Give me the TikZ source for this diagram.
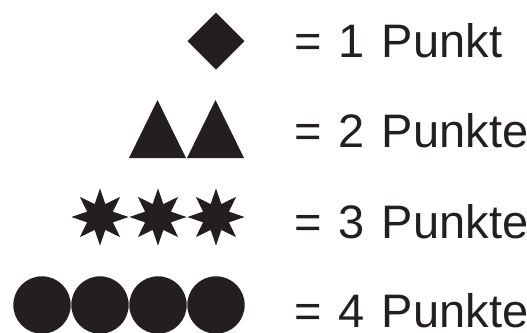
\documentclass[tikz,border=0pt]{standalone}
\usepackage{fontspec}
\setmainfont{Liberation Sans}[WordSpace=1.3]
\definecolor{ink}{HTML}{231F20}
\begin{document}
\begin{tikzpicture}[x=0.5pt,y=-0.5pt]
  \tikzset{
    points/.style={anchor=base west,inner sep=0pt,text=ink,font=\fontsize{23.5}{28}\selectfont}
  }
  \useasboundingbox (0,0) rectangle (527,333);
  % symbols
  \fill[ink] (216,12.5) -- (244.5,41) -- (216,69.5) -- (187.5,41) -- cycle;
  \foreach \x in {129,187} {
    \fill[ink] (\x,158) -- (\x+57,158) -- (\x+28.5,100) -- cycle;
  }
  \foreach \x in {100,158,216} {
    \fill[ink] (\x,217) +(90:28.5) \foreach \a in {1,...,15} { -- +({90+\a*22.5}:{mod(\a,2)==1 ? 14 : 28.5}) } -- cycle;
  }
  \foreach \x in {42,100,158,216} {
    \fill[ink] (\x,305) circle (28.7);
  }
  % labels
  \node[points] (p1) at (294,57) {= 1 Punkt};
  \node[points] (p2) at (294,147) {= 2 Punkte};
  \node[points] (p3) at (294,238) {= 3 Punkte};
  \node[points] (p4) at (294,327) {= 4 Punkte};
\end{tikzpicture}
\end{document}
